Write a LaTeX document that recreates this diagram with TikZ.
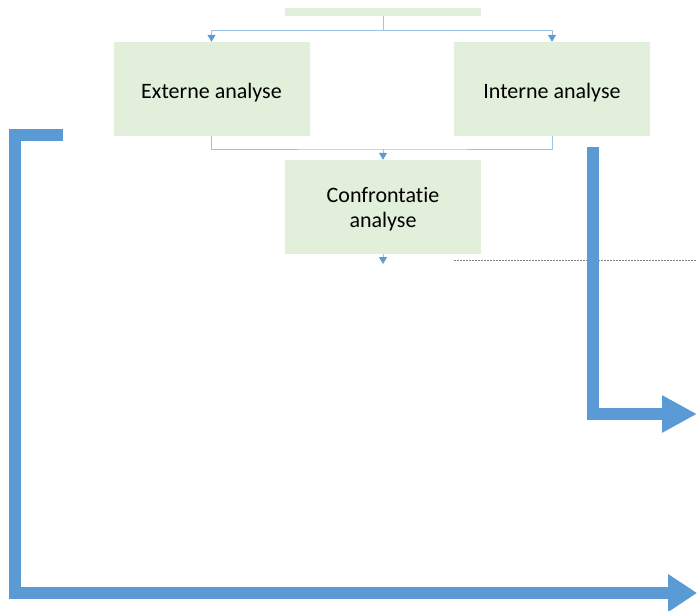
\documentclass[tikz,border=0pt]{standalone}
\usepackage{fontspec}
\setmainfont{Carlito}[Ligatures=NoCommon]
\usepackage{xcolor}
\usetikzlibrary{arrows.meta}
\definecolor{boxgreen}{HTML}{E2EFDA}
\definecolor{bigblue}{HTML}{5B9BD5}
\definecolor{thinblue}{HTML}{9DC3E6}

\begin{document}
\begin{tikzpicture}[x=1pt,y=-1pt,
		box/.style={fill=boxgreen,minimum width=196pt,minimum height=94pt,inner sep=0pt,align=center,font=\fontsize{22}{25}\selectfont},
		conn/.style={thinblue,line width=1pt},
		tip/.style={-{Triangle[width=8pt,length=7pt,color=bigblue]}},
		bigarrow/.style={bigblue,line width=12pt,line join=miter}]
	\useasboundingbox (0,0) rectangle (697,611);
		\node[box,minimum height=8pt] (top) at (383,12) {};
		\node[box] (ext) at (211.5,89) {\rule{0pt}{22pt}Externe analyse};
		\node[box] (int) at (552,89) {\rule{0pt}{22pt}Interne analyse};
		\node[box] (conf) at (383,207) {\rule{0pt}{20pt}Confrontatie\\analyse};
		\coordinate (split) at (383,30);
		\coordinate (join) at (383,149);
		\coordinate (out) at (383,264);
		% connectors
		\draw[conn] (top.south) -- (split);
		\draw[conn,tip] (split) -| (ext.north);
		\draw[conn,tip] (split) -| (int.north);
		\draw[conn] (ext.south) |- (join) -| (int.south);
		\draw[conn,tip] (join) -- (conf.north);
		\draw[conn,tip] (conf.south) -- (out);
		% dashed line
		\coordinate (dashstart) at (454,260);
		\coordinate (dashend) at (697,260);
		\draw[gray,dashed,line width=0.6pt,dash pattern=on 2pt off 1pt] (dashstart) -- (dashend);
		% big arrows
		\coordinate (leftstart) at (63,135);
		\coordinate (leftcorner) at (15,135);
		\coordinate (leftbottom) at (15,593);
		\coordinate (leftend) at (697,593);
		\draw[bigarrow,-{Triangle[width=36pt,length=29pt]}] (leftstart) -- (leftcorner) -- (leftbottom) -- (leftend);
		\coordinate (rightstart) at (593,147);
		\coordinate (rightcorner) at (593,414);
		\coordinate (rightend) at (697,414);
		\draw[bigarrow,-{Triangle[width=35pt,length=35pt]}] (rightstart) -- (rightcorner) -- (rightend);
\end{tikzpicture}
\end{document}
